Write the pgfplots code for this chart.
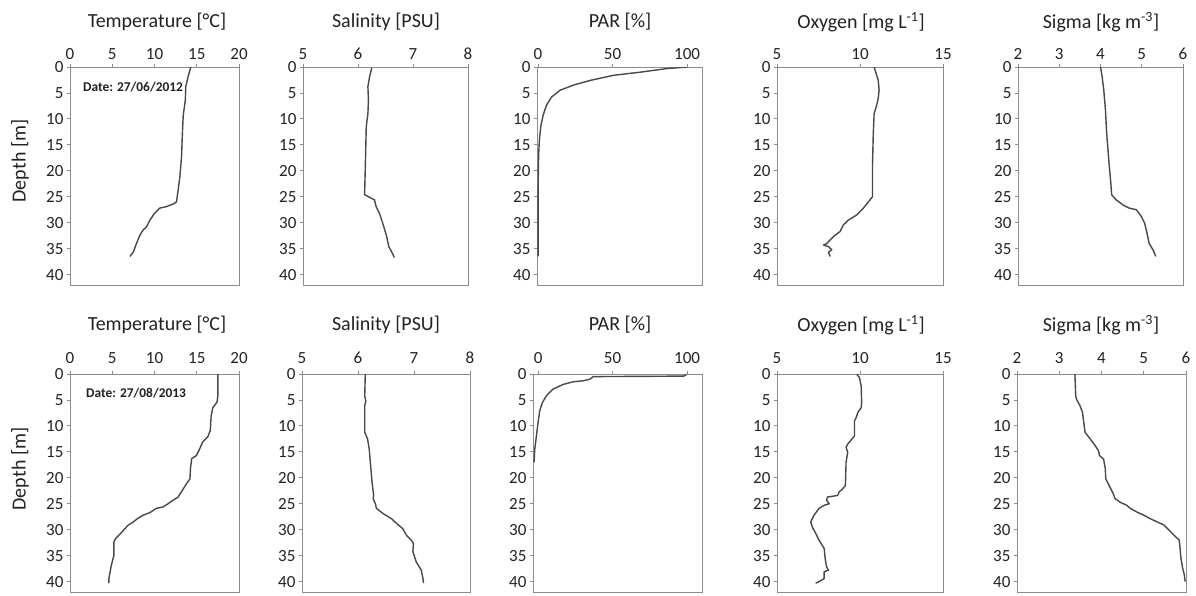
\documentclass[border=0pt]{standalone}
\usepackage{fontspec}
\setmainfont{Carlito}
\usepackage{pgfplots}
\pgfplotsset{compat=1.18}
\definecolor{boxgray}{HTML}{8C8C8C}
\definecolor{curvegray}{HTML}{484848}
\definecolor{txt}{HTML}{222222}
\pgfplotsset{
  prof/.style={
    scale only axis, anchor=north west,
    y dir=reverse, ymin=0, ymax=42, ytick={0,5,...,40},
    xtick pos=right, xticklabel pos=right, ytick pos=left,
    tick align=outside, major tick length=3pt,
    axis line style={boxgray, line width=0.9pt},
    tick style={boxgray, line width=0.9pt},
    tick label style={font=\fontsize{17}{20}\selectfont, text=txt},
    /pgf/number format/assume math mode=true,
    cycle list={{curvegray, mark=none}},
    every axis plot post/.append style={line width=1.4pt, line join=round},
  },
  row1/.style={xticklabel style={yshift=1pt}},
  row2/.style={xticklabel style={yshift=4pt}},
}
\begin{document}
\begin{tikzpicture}
\useasboundingbox (0,0) rectangle (1196pt,-596pt);
% ---------------- 2012 ----------------
\begin{axis}[prof, row1, at={(70pt,-67pt)}, width=169pt, height=218pt,
  xmin=0, xmax=20, xtick={0,5,...,20}]
\addplot coordinates {(14.3,0) (14.0,1.7) (13.7,3.8) (13.65,6.4) (13.4,9.3) (13.3,12.8) (13.2,17.3) (13.0,21.2) (12.8,23.7) (12.6,26.0) (12.2,26.4) (11.4,26.9) (10.6,27.2) (10.0,28.2) (9.45,29.5) (9.05,30.8) (8.66,31.4) (8.27,32.4) (7.87,34.0) (7.5,35.6) (7.1,36.5)};
\end{axis}
\begin{axis}[prof, row1, at={(303pt,-67pt)}, width=165pt, height=218pt,
  xmin=5, xmax=8, xtick={5,6,7,8}]
\addplot coordinates {(6.25,0.2) (6.21,1.9) (6.18,3.8) (6.19,6.4) (6.18,9.0) (6.15,11.5) (6.14,16.0) (6.13,20.5) (6.12,24.6) (6.30,25.6) (6.33,26.9) (6.39,28.2) (6.45,30.1) (6.52,32.6) (6.56,34.6) (6.64,36.2) (6.66,36.7)};
\end{axis}
\begin{axis}[prof, row1, at={(537pt,-67pt)}, width=165pt, height=218pt,
  xmin=-0.7, xmax=110, xtick={0,50,100}]
\addplot coordinates {(100,0) (86.5,0.3) (68.5,1.0) (50.6,1.6) (34.8,2.6) (23.6,3.5) (14.6,4.5) (9.0,5.8) (5.6,7.4) (3.4,9.3) (1.8,11.5) (0.9,14.1) (0.45,16.6) (0.2,19.5) (0.05,25) (0,36.5)};
\end{axis}
\begin{axis}[prof, row1, at={(777pt,-67pt)}, width=166pt, height=218pt,
  xmin=5, xmax=15, xtick={5,10,15}]
\addplot coordinates {(10.85,0) (10.95,1.0) (11.1,2.6) (11.15,4.5) (11.1,6.0) (11.0,7.4) (10.85,9.0) (10.8,12.8) (10.75,19.2) (10.75,25.0) (10.5,26.0) (10.2,27.2) (9.8,28.5) (9.3,29.5) (9.0,30.4) (8.8,31.7) (8.5,32.4) (8.3,33.0) (8.0,34.0) (7.8,34.3) (8.1,34.6) (8.3,35.2) (8.1,35.7) (8.2,36.5)};
\end{axis}
\begin{axis}[prof, row1, at={(1018pt,-67pt)}, width=165pt, height=218pt,
  xmin=2, xmax=6, xtick={2,3,4,5,6}]
\addplot coordinates {(4.0,0) (4.04,1.9) (4.08,4.5) (4.12,8.3) (4.15,12.8) (4.2,17.9) (4.25,22.4) (4.27,24.6) (4.38,25.6) (4.55,26.6) (4.7,27.2) (4.87,27.5) (4.99,28.8) (5.07,30.1) (5.11,31.4) (5.18,34.0) (5.27,35.2) (5.34,36.5)};
\end{axis}
% ---------------- 2013 ----------------
\begin{axis}[prof, row2, at={(70pt,-374pt)}, width=169pt, height=218pt,
  xmin=0, xmax=20, xtick={0,5,...,20}]
\addplot coordinates {(17.5,0) (17.5,4.2) (17.4,5.4) (16.9,6.5) (16.7,8.1) (16.6,10.9) (16.3,12.1) (15.7,13.1) (15.35,14.4) (14.96,15.7) (14.4,16.3) (14.25,18.3) (14.2,20.2) (13.8,21.1) (13.3,22.4) (12.8,23.7) (12.2,24.3) (11.6,25.0) (11.0,25.6) (10.2,25.9) (9.45,26.7) (8.66,27.2) (7.95,27.9) (7.5,28.5) (6.9,29.1) (6.5,29.8) (6.0,30.7) (5.4,31.7) (5.2,32.3) (5.2,34.9) (4.9,36.8) (4.6,39.4) (4.6,40.3)};
\end{axis}
\begin{axis}[prof, row2, at={(302pt,-374pt)}, width=168pt, height=218pt,
  xmin=5, xmax=8, xtick={5,6,7,8}]
\addplot coordinates {(6.13,0) (6.12,4.2) (6.14,5.2) (6.12,6.1) (6.12,11.2) (6.17,12.5) (6.2,14.4) (6.22,17.0) (6.25,20.8) (6.28,23.4) (6.27,24.0) (6.31,25.0) (6.33,25.9) (6.45,26.9) (6.6,27.9) (6.69,28.8) (6.8,29.8) (6.86,31.0) (6.95,32.0) (6.99,32.6) (6.98,34.2) (7.04,36.2) (7.13,37.8) (7.16,39.4) (7.17,40.3)};
\end{axis}
\begin{axis}[prof, row2, at={(533pt,-374pt)}, width=169pt, height=218pt,
  xmin=-3.4, xmax=110, xtick={0,50,100}]
\addplot coordinates {(99.6,0.1) (97.8,0.4) (73,0.45) (37,0.5) (34.8,1.0) (30.3,1.3) (23.6,1.5) (16.9,2.0) (10.1,2.9) (5.6,4.2) (2.9,5.5) (1.1,7.1) (0,9.3) (-1.1,11.9) (-2.2,14.4) (-2.7,17.0)};
\end{axis}
\begin{axis}[prof, row2, at={(777pt,-374pt)}, width=166pt, height=218pt,
  xmin=5, xmax=15, xtick={5,10,15}]
\addplot coordinates {(9.8,0) (9.97,0.7) (10.07,2.3) (10.1,5.5) (10.07,6.5) (9.87,7.4) (9.77,8.4) (9.67,9.0) (9.67,11.9) (9.52,12.5) (9.26,13.5) (9.16,14.1) (9.26,15.1) (9.16,17.0) (9.12,21.5) (8.96,22.1) (8.75,22.7) (8.65,23.4) (8.04,23.7) (7.98,24.3) (8.14,25.0) (7.84,25.3) (7.53,25.9) (7.23,27.2) (7.03,28.5) (7.13,29.5) (7.33,30.7) (7.53,32.0) (7.84,33.6) (7.9,35.5) (7.98,37.1) (8.1,37.8) (7.84,38.1) (7.84,39.4) (7.53,40.0) (7.33,40.3)};
\end{axis}
\begin{axis}[prof, row2, at={(1017pt,-374pt)}, width=169pt, height=218pt,
  xmin=2, xmax=6, xtick={2,3,4,5,6}]
\addplot coordinates {(3.37,0) (3.39,4.2) (3.41,4.9) (3.49,6.1) (3.55,7.4) (3.59,10.0) (3.61,11.2) (3.73,12.5) (3.85,13.8) (3.93,14.8) (3.95,15.7) (4.05,16.4) (4.09,18.3) (4.1,20.2) (4.2,21.8) (4.28,23.1) (4.32,24.0) (4.44,24.7) (4.6,25.3) (4.68,25.9) (4.84,26.6) (5.0,27.2) (5.16,27.9) (5.32,28.5) (5.48,29.1) (5.6,30.1) (5.72,31.1) (5.84,32.0) (5.86,33.6) (5.88,35.5) (5.92,37.4) (5.96,38.7) (5.98,40.0)};
\end{axis}
% ---------------- titles and labels ----------------
\begin{scope}[every node/.style={font=\fontsize{20}{24}\selectfont, text=txt}]
\node at (157pt,-22pt) {Temperature [°C]};
\node at (386pt,-22pt) {Salinity [PSU]};
\node at (620pt,-22pt) {PAR [\%]};
\node at (861pt,-22pt) {Oxygen [mg L\textsuperscript{-1}]};
\node at (1101pt,-22pt) {Sigma [kg m\textsuperscript{-3}]};
\node at (157pt,-325pt) {Temperature [°C]};
\node at (386pt,-325pt) {Salinity [PSU]};
\node at (620pt,-325pt) {PAR [\%]};
\node at (861pt,-325pt) {Oxygen [mg L\textsuperscript{-1}]};
\node at (1101pt,-325pt) {Sigma [kg m\textsuperscript{-3}]};
\node[rotate=90] at (20pt,-161pt) {Depth [m]};
\node[rotate=90] at (20pt,-469pt) {Depth [m]};
\end{scope}
\node[anchor=west, font=\fontsize{13.4}{16}\selectfont\bfseries, text=txt, inner sep=0pt] at (83pt,-87pt) {Date: 27/06/2012};
\node[anchor=west, font=\fontsize{13.4}{16}\selectfont\bfseries, text=txt, inner sep=0pt] at (86pt,-393pt) {Date: 27/08/2013};
\end{tikzpicture}
\end{document}
